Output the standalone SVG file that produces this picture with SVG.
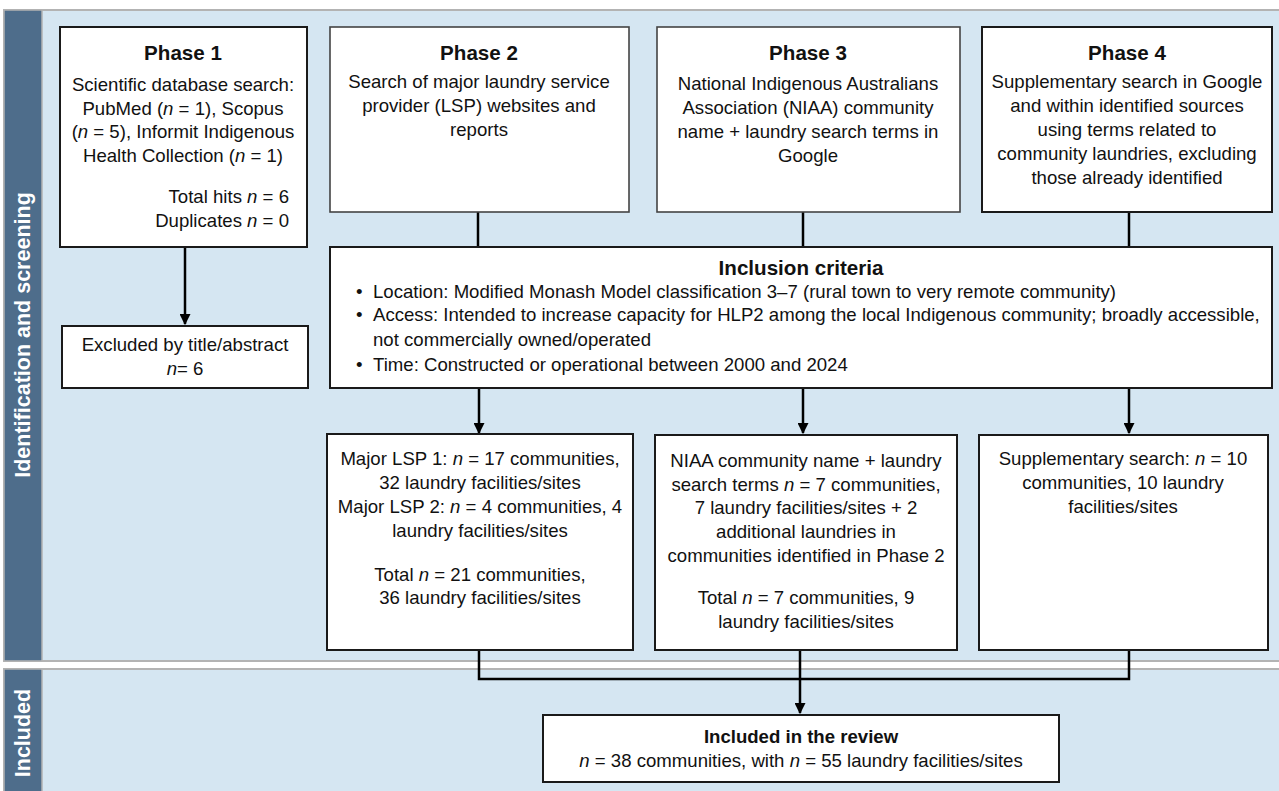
<svg xmlns="http://www.w3.org/2000/svg" width="1279" height="791" viewBox="0 0 1279 791">
<defs>
<style>
text{font-family:"Liberation Sans",Arial,sans-serif;fill:#111;}
.t{font-size:18.6px;}
.h{font-size:20.6px;font-weight:bold;}
.hb{font-size:18.6px;font-weight:bold;}
.side{font-size:21.5px;font-weight:bold;fill:#fff;}
.box{fill:#fff;stroke:#1a1a1a;stroke-width:2;}
.box2{fill:#fff;stroke:#444;stroke-width:1.6;}
.sec{fill:#d5e6f2;stroke:#b3b3b3;stroke-width:2;}
.bar{fill:#4e6d8b;stroke:#b3b3b3;stroke-width:1.5;}
.ln{fill:none;stroke:#000;stroke-width:2.5;}
.i{font-style:italic;}
</style>
<marker id="ah" viewBox="0 0 10 10" refX="9" refY="5" markerWidth="4.4" markerHeight="4.4" markerUnits="strokeWidth" orient="auto">
<path d="M0,0 L10,5 L0,10 z" fill="#000"/>
</marker>
</defs>
<rect width="1279" height="791" fill="#fff"/>
<g id="sections">
<rect class="sec" x="4" y="10" width="1285" height="651"/>
<rect class="bar" x="4" y="10" width="38" height="651"/>
<rect class="sec" x="4" y="669" width="1285" height="130"/>
<rect class="bar" x="4" y="669" width="38" height="130"/>
<text class="side" transform="translate(30,335) rotate(-90)" text-anchor="middle">Identification and screening</text>
<text class="side" transform="translate(30,733) rotate(-90)" text-anchor="middle">Included</text>
</g>
<g id="connectors">
<line class="ln" x1="185" y1="247" x2="185" y2="324" marker-end="url(#ah)"/>
<line class="ln" x1="478" y1="212" x2="478" y2="247"/>
<line class="ln" x1="803" y1="212" x2="803" y2="247"/>
<line class="ln" x1="1129" y1="212" x2="1129" y2="247"/>
<line class="ln" x1="479" y1="388" x2="479" y2="433" marker-end="url(#ah)"/>
<line class="ln" x1="803" y1="388" x2="803" y2="433" marker-end="url(#ah)"/>
<line class="ln" x1="1129" y1="388" x2="1129" y2="433" marker-end="url(#ah)"/>
<path class="ln" d="M479,650 V679 H1129 V650"/>
<line class="ln" x1="800" y1="650" x2="800" y2="713" marker-end="url(#ah)"/>
</g>
<g id="phase1">
<rect class="box" x="60" y="27" width="247" height="220"/>
<text class="h" x="183" y="60" text-anchor="middle">Phase 1</text>
<text class="t" x="183" y="91" text-anchor="middle">Scientific database search:</text>
<text class="t" x="183" y="115" text-anchor="middle">PubMed (<tspan class="i">n</tspan> = 1), Scopus</text>
<text class="t" x="183" y="138" text-anchor="middle">(<tspan class="i">n</tspan> = 5), Informit Indigenous</text>
<text class="t" x="183" y="162" text-anchor="middle">Health Collection (<tspan class="i">n</tspan> = 1)</text>
<text class="t" x="289" y="203" text-anchor="end">Total hits <tspan class="i">n</tspan> = 6</text>
<text class="t" x="289" y="227" text-anchor="end">Duplicates <tspan class="i">n</tspan> = 0</text>
</g>
<g id="phase2">
<rect class="box2" x="330" y="27" width="299" height="185"/>
<text class="h" x="479" y="60" text-anchor="middle">Phase 2</text>
<text class="t" x="479" y="88" text-anchor="middle">Search of major laundry service</text>
<text class="t" x="479" y="112" text-anchor="middle">provider (LSP) websites and</text>
<text class="t" x="479" y="136" text-anchor="middle">reports</text>
</g>
<g id="phase3">
<rect class="box2" x="657" y="27" width="303" height="185"/>
<text class="h" x="808" y="60" text-anchor="middle">Phase 3</text>
<text class="t" x="808" y="90" text-anchor="middle">National Indigenous Australians</text>
<text class="t" x="808" y="114" text-anchor="middle">Association (NIAA) community</text>
<text class="t" x="808" y="138" text-anchor="middle">name + laundry search terms in</text>
<text class="t" x="808" y="162" text-anchor="middle">Google</text>
</g>
<g id="phase4">
<rect class="box" x="982" y="27" width="290" height="185"/>
<text class="h" x="1127" y="60" text-anchor="middle">Phase 4</text>
<text class="t" x="1127" y="88" text-anchor="middle">Supplementary search in Google</text>
<text class="t" x="1127" y="112" text-anchor="middle">and within identified sources</text>
<text class="t" x="1127" y="136" text-anchor="middle">using terms related to</text>
<text class="t" x="1127" y="160" text-anchor="middle">community laundries, excluding</text>
<text class="t" x="1127" y="184" text-anchor="middle">those already identified</text>
</g>
<g id="excluded">
<rect class="box" x="62" y="326" width="246" height="62"/>
<text class="t" x="185" y="351" text-anchor="middle">Excluded by title/abstract</text>
<text class="t" x="185" y="375" text-anchor="middle"><tspan class="i">n</tspan>= 6</text>
</g>
<g id="criteria">
<rect class="box" x="330" y="247" width="942" height="141"/>
<text class="h" x="801" y="275" text-anchor="middle">Inclusion criteria</text>
<text class="t" x="356" y="298">•</text>
<text class="t" x="373" y="298">Location: Modified Monash Model classification 3–7 (rural town to very remote community)</text>
<text class="t" x="356" y="321">•</text>
<text class="t" x="373" y="321">Access: Intended to increase capacity for HLP2 among the local Indigenous community; broadly accessible,</text>
<text class="t" x="373" y="346">not commercially owned/operated</text>
<text class="t" x="356" y="371">•</text>
<text class="t" x="373" y="371">Time: Constructed or operational between 2000 and 2024</text>
</g>
<g id="lsp">
<rect class="box" x="327" y="434" width="306" height="216"/>
<text class="t" x="480" y="465" text-anchor="middle">Major LSP 1: <tspan class="i">n</tspan> = 17 communities,</text>
<text class="t" x="480" y="489" text-anchor="middle">32 laundry facilities/sites</text>
<text class="t" x="480" y="513" text-anchor="middle">Major LSP 2: <tspan class="i">n</tspan> = 4 communities, 4</text>
<text class="t" x="480" y="537" text-anchor="middle">laundry facilities/sites</text>
<text class="t" x="480" y="581" text-anchor="middle">Total <tspan class="i">n</tspan> = 21 communities,</text>
<text class="t" x="480" y="604" text-anchor="middle">36 laundry facilities/sites</text>
</g>
<g id="niaa">
<rect class="box" x="655" y="435" width="302" height="215"/>
<text class="t" x="806" y="467" text-anchor="middle">NIAA community name + laundry</text>
<text class="t" x="806" y="491" text-anchor="middle">search terms <tspan class="i">n</tspan> = 7 communities,</text>
<text class="t" x="806" y="514" text-anchor="middle">7 laundry facilities/sites + 2</text>
<text class="t" x="806" y="538" text-anchor="middle">additional laundries in</text>
<text class="t" x="806" y="562" text-anchor="middle">communities identified in Phase 2</text>
<text class="t" x="806" y="604" text-anchor="middle">Total <tspan class="i">n</tspan> = 7 communities, 9</text>
<text class="t" x="806" y="628" text-anchor="middle">laundry facilities/sites</text>
</g>
<g id="supp">
<rect class="box" x="979" y="435" width="289" height="215"/>
<text class="t" x="1123" y="465" text-anchor="middle">Supplementary search: <tspan class="i">n</tspan> = 10</text>
<text class="t" x="1123" y="489" text-anchor="middle">communities, 10 laundry</text>
<text class="t" x="1123" y="513" text-anchor="middle">facilities/sites</text>
</g>
<g id="included">
<rect class="box" x="543" y="715" width="516" height="67"/>
<text class="hb" x="801" y="743" text-anchor="middle">Included in the review</text>
<text class="t" x="801" y="767" text-anchor="middle"><tspan class="i">n</tspan> = 38 communities, with <tspan class="i">n</tspan> = 55 laundry facilities/sites</text>
</g>
</svg>
